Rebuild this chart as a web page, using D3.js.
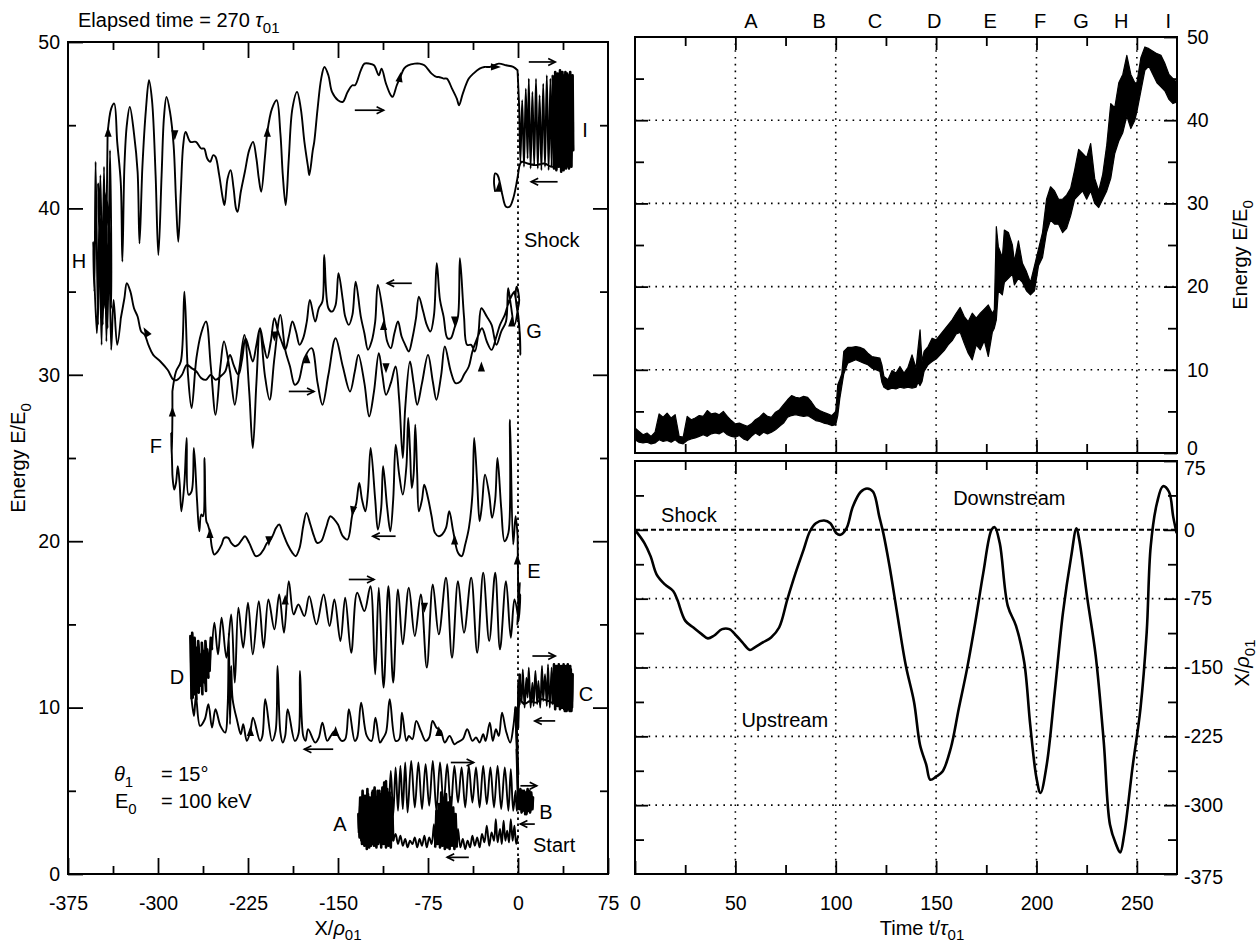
<!DOCTYPE html>
<html><head><meta charset="utf-8">
<script src="https://cdn.jsdelivr.net/npm/d3@7"></script>
<style>
body{margin:0;background:#fff}
svg{display:block}
text{font-family:"Liberation Sans",Arial,Helvetica,sans-serif;fill:#000}
</style>
</head><body>
<svg id="c" width="1259" height="945"></svg>
<script>
// ---------------- DATA ----------------
// Left panel: particle trajectory in (X/rho01, E/E0), in time order, by segment
const pathStartA = [[0,2.3],[-1.5,1.8],[-3,2.9],[-4.5,2.0],[-6,3.3],[-7.5,1.9],[-9,2.6],[-10.5,2.0],[-12,3.2],[-13.5,1.8],[-15,2.7],[-17,1.9],[-18.5,3.3],[-20,2.0],[-22,2.5],[-24,1.7],[-26,2.9],[-28,1.9],[-30,2.4],[-32,1.6],[-34,2.2],[-36,1.7],[-38,2.3],[-40,1.6],[-42,2.0],[-44,1.5],[-46,2.1],[-48,1.6],[-50,2.7],[-51,1.6],[-52,3.6],[-53,1.5],[-54,4.0],[-55,1.7],[-56,4.6],[-57,1.5],[-58,4.3],[-59,1.6],[-60,4.8],[-61,1.5],[-62,4.5],[-63,1.7],[-64,4.9],[-65,1.6],[-66,4.2],[-67,1.8],[-68,3.8],[-69,1.6],[-70,3.0],[-72,1.8],[-74,2.2],[-76,1.6],[-78,2.3],[-80,1.7],[-82,2.1],[-84,1.6],[-86,2.2],[-88,1.8],[-90,2.0],[-92,1.6],[-94,2.1],[-96,1.7],[-98,2.3],[-100,1.8],[-102,2.4],[-104,2.0]];
const blobA = [[-104,2.0],[-105,4.6],[-106,1.6],[-107,4.9],[-108,1.7],[-109,5.1],[-110,1.6],[-111,4.8],[-112,1.8],[-113,5.2],[-114,1.6],[-115,4.7],[-116,1.9],[-117,5.0],[-118,1.6],[-119,4.6],[-120,1.7],[-121,5.0],[-122,1.8],[-123,4.4],[-124,1.6],[-125,4.8],[-126,1.5],[-127,4.3],[-128,1.7],[-129,4.6],[-130,1.8],[-131,4.0],[-132,2.2],[-133,3.6],[-132.5,2.5],[-131.5,4.6],[-130.5,2.0],[-129.5,5.0],[-128.5,2.2],[-127.5,4.7],[-126.5,1.9],[-125.5,5.1],[-124.5,2.1],[-123.5,4.6],[-122.5,1.7],[-121.5,4.9],[-120.5,2.0],[-119.5,5.2],[-118.5,1.9],[-117.5,4.5],[-116.5,1.8],[-115.5,5.0],[-114.5,2.3],[-113.5,4.8],[-112.5,2.0],[-111.5,5.5],[-110.5,3.0],[-110,5.6]];
const pathAB = [[-110,5.6],[-108,3.6],[-106,6.2],[-104,3.5],[-102,6.4],[-100,3.8],[-98,6.5],[-96,3.9],[-94,6.7],[-92,3.7],[-89,6.8],[-86,4.0],[-83,6.7],[-80,3.9],[-77,6.6],[-74,4.1],[-71,6.8],[-68,3.8],[-65,6.7],[-62,4.2],[-59,6.6],[-56,3.9],[-53,6.5],[-50,4.3],[-47,6.4],[-44,4.0],[-41,6.5],[-38,4.3],[-35,6.4],[-32,4.0],[-29,6.5],[-26,4.2],[-23,6.4],[-20,4.0],[-17,6.5],[-14,3.9],[-11,6.4],[-8,3.8],[-6,6.3],[-4,3.8],[-2,5.0],[-1,3.8],[0,4.2]];
const blobB = [[0,4.2],[2,5.1],[3,3.7],[5,5.0],[6,3.6],[8,5.1],[9,3.8],[11,4.9],[12,3.9],[12.5,4.6],[10,3.7],[9.5,5.0],[7,3.6],[6.5,4.9],[4,3.8],[3.5,5.0],[1,3.9],[0,4.8]];
const jumpC = [[0,4.8],[-1,7.5],[0,6.0],[-1.5,9.0],[-0.5,7.5],[-2,10.0],[0,8.8],[0.5,11.5],[1,10.2],[1.5,12.0]];
const blobC = [[1.5,12.0],[3,10.3],[4,12.3],[5.5,10.0],[7,11.8],[8,10.6],[9,12.4],[10.5,10.0],[12,11.5],[13,10.1],[14.5,12.2],[16,10.2],[17,11.6],[18.5,10.0],[20,12.5],[21,10.4],[22.5,12.0],[24,10.1],[25,12.6],[26.5,10.0],[28,12.4],[29,10.2],[30,12.6],[31,9.9],[32,12.5],[33,10.1],[34,12.6],[35,9.9],[36,12.5],[37,10.0],[38,12.6],[39,9.8],[40,12.5],[41,9.9],[42,12.4],[43,9.8],[44,12.3],[45,10.0],[45.5,12.0],[44.5,9.8],[43.5,12.5],[42.5,9.9],[41.5,12.6],[40.5,9.8],[39.5,12.4],[38.5,9.9],[37.5,12.5],[36.5,10.0],[35.5,12.3],[34.5,10.1],[33.5,12.2],[30,10.3],[25,10.4],[20,10.5],[15,10.3],[10,10.4],[5,10.2],[2,10.5],[0,9.9],[-2.4,9.9]];
const pathCD = [[-2.4,9.9],[-4,8.8],[-6.5,7.9],[-10,8.6],[-13.3,9.7],[-16,8.3],[-18.4,8.7],[-21,8.0],[-23.5,9.1],[-27,8.0],[-29,8.4],[-32,7.9],[-35,8.2],[-38,8.0],[-42.3,8.7],[-46,8.1],[-50.7,7.9],[-53,7.8],[-57,8.3],[-61,7.9],[-64.4,8.6],[-68,8.8],[-71.2,9.2],[-74,8.2],[-77,8.0],[-81,8.6],[-84.8,9.2],[-88,8.1],[-91,8.3],[-93,8.0],[-96.7,9.7],[-99,8.1],[-102,8.0],[-106.9,10.5],[-110,8.5],[-113,8.1],[-115,7.9],[-118.8,9.4],[-122,8.0],[-126,8.3],[-130.7,10.3],[-134,8.2],[-136,8.0],[-140.9,9.9],[-144,8.1],[-147,8.0],[-152.8,8.6],[-156,8.3],[-159,8.0],[-163,9.1],[-166,8.2],[-169,7.9],[-174.9,8.7],[-177,8.0],[-179,8.3],[-181.7,12.2],[-183,8.4],[-186,8.0],[-191.9,9.9],[-194,8.3],[-196,7.9],[-198,8.5],[-200.4,12.5],[-202,8.6],[-205,8.0],[-210.6,10.5],[-213,8.3],[-215,8.0],[-220.8,9.4],[-223,8.6],[-226,8.0],[-229,9.0],[-231,8.4],[-234,9.2],[-237.8,10.5],[-239,12.5],[-240,9.0],[-241,14.5],[-242,10.0],[-244,8.5],[-248,8.9],[-252.1,9.9],[-255,8.8],[-258,10.2],[-261,9.3],[-265,8.9],[-268.4,10.7],[-270,9.5],[-272,10.5]];
const blobD = [[-272,10.5],[-273,14.3],[-271,10.6],[-272.5,13.8],[-270,10.8],[-271.5,14.5],[-269,11.0],[-270.5,13.5],[-268,10.5],[-269.5,14.2],[-267,11.2],[-268,13.6],[-266,10.9],[-266.5,14.0],[-264,11.3],[-265,13.2],[-263,10.8],[-263.5,13.9],[-261,11.5],[-262,13.4],[-260,11.0],[-260.5,14.0],[-258,11.8],[-259,13.5],[-257,12.2],[-256,14.2],[-255,13.5]];
const pathDE = [[-255,13.5],[-253,15.1],[-250,13.2],[-247,15.4],[-243,13.0],[-239,15.6],[-236,11.5],[-233,16.0],[-229,13.6],[-225,16.3],[-221,13.2],[-216,16.4],[-212,13.6],[-208,16.5],[-203,14.7],[-199,16.8],[-195,14.5],[-191,17.6],[-187,15.6],[-183,16.2],[-178,15.5],[-174,16.7],[-168,15.0],[-162,16.8],[-157,14.9],[-153,16.5],[-148,14.0],[-144,16.6],[-139,13.3],[-134,16.9],[-128,15.8],[-123,17.3],[-119,12.0],[-116,17.2],[-112,11.2],[-108,17.3],[-104,11.5],[-100,17.1],[-96,13.8],[-91,17.2],[-86,14.3],[-81,16.8],[-76,12.4],[-71,17.4],[-66,14.4],[-60,17.8],[-55,13.0],[-50,17.6],[-45,14.5],[-39,17.8],[-34,13.3],[-29,18.1],[-24,14.0],[-19,18.1],[-15,13.5],[-10,17.6],[-6,14.2],[-3,16.5],[0,15.5]];
const jumpE = [[0,15.5],[1,17.2],[-0.5,15.0],[1.5,17.5],[0,15.8],[2,16.8],[0.5,15.2],[0,18.0],[-0.3,20.3]];
const pathEF = [[-0.3,20.3],[-2,21.5],[-4,19.8],[-6.7,27.3],[-8,20.5],[-11.2,20.0],[-14,22.0],[-17.1,25.0],[-19,22.5],[-21.6,21.4],[-24,22.8],[-27.5,24.0],[-30,22.2],[-32,21.2],[-34,23.5],[-36.5,26.2],[-38,22.8],[-40.9,20.8],[-44,19.8],[-46.9,19.1],[-50,19.3],[-54,20.6],[-57.3,21.8],[-60,20.8],[-63.2,20.4],[-66,20.3],[-69.2,20.5],[-72,21.5],[-75,22.6],[-78.1,23.4],[-80,22.5],[-82.6,21.8],[-84,24.0],[-85.6,27.0],[-87,24.0],[-88.5,23.2],[-90,25.5],[-91.5,27.4],[-93,24.5],[-96,22.8],[-99,24.0],[-101.9,25.8],[-104,22.5],[-106.4,20.6],[-109,22.0],[-112.4,24.5],[-114,22.0],[-116.8,20.7],[-119,22.5],[-122.8,25.6],[-125,23.0],[-127.2,21.8],[-130,22.5],[-132.3,23.5],[-135,22.2],[-138,21.6],[-142.1,20.1],[-146,20.3],[-150,21.0],[-153,21.3],[-156.4,21.5],[-160,20.8],[-164,20.0],[-167.4,19.9],[-170,20.3],[-173,21.0],[-176.3,21.7],[-179,20.9],[-182,19.6],[-185.3,19.1],[-188,19.3],[-192,19.8],[-196,20.5],[-199,21.0],[-201.6,20.8],[-204,20.4],[-207,20.0],[-209.1,19.9],[-212,19.5],[-215,19.2],[-218.6,19.1],[-221,19.4],[-224,19.9],[-227.5,20.3],[-230,20.1],[-233,19.8],[-235.9,19.7],[-239,19.9],[-241.5,20.2],[-244.8,20.2],[-247,19.8],[-250,19.4],[-253.1,19.2],[-255,19.6],[-256.7,20.5],[-258.5,21.0],[-259.7,21.2],[-261.2,25.0],[-262.5,21.5],[-264,21.6],[-265.6,20.6],[-267.5,22.5],[-270.1,25.6],[-272,23.0],[-274.6,22.8],[-276.1,26.2],[-278,23.5],[-280.5,21.8],[-282,23.5],[-283.5,24.5],[-285,23.5],[-286.5,23.1],[-288,24.0]];
const jumpF = [[-288,24.0],[-289,26.5],[-288.5,25.0],[-288,27.6],[-288,29.0]];
const pathFG = [[-288,29.0],[-285,30.2],[-281,30.8],[-278,35.0],[-275,30.0],[-272,28.0],[-268,31.0],[-264,32.5],[-260,33.2],[-256,30.5],[-252,27.6],[-248,30.5],[-245,32.0],[-240,30.2],[-236,28.2],[-232,30.5],[-228,32.4],[-224,29.0],[-221,25.6],[-218,29.5],[-215,32.8],[-211,30.0],[-207,28.5],[-203,31.0],[-198,33.6],[-194,31.5],[-190,30.5],[-186,29.4],[-183,29.6],[-178,31.0],[-172,31.6],[-167,29.5],[-163,28.2],[-158,30.0],[-152,32.2],[-146,30.5],[-140,29.0],[-136,30.2],[-133,31.2],[-128,29.5],[-124,27.5],[-120,29.0],[-116,31.3],[-113,30.0],[-110,28.8],[-106,29.5],[-102,30.5],[-99,28.5],[-96,25.0],[-94,28.0],[-90,30.8],[-87,29.5],[-84,28.2],[-80,29.5],[-75,31.2],[-71,29.6],[-68,28.5],[-64,30.0],[-61,31.7],[-56,30.2],[-52,29.5],[-48,29.6],[-45,30.0],[-41,30.5],[-38,31.4],[-34,32.2],[-30,32.8],[-26,32.0],[-22,31.5],[-18,32.3],[-15,33.0],[-11,33.6],[-8,34.3],[-5,34.8],[-3,35.0]];
const loopG = [[-3,35.0],[-1,34.2],[1,33.0],[2,31.2],[1.5,32.5],[0,33.5],[-2,34.8],[-1,35.3],[1,34.5],[0,34.0]];
const pathGH = [[0,34.0],[-3,33.0],[-6,34.2],[-8.2,35.2],[-10,33.2],[-14,32.6],[-18,31.8],[-22,33.0],[-26,33.5],[-30.5,34.0],[-33,32.5],[-36,31.4],[-39,31.8],[-42.4,31.8],[-45,33.5],[-48.4,37.0],[-50,33.5],[-53,32.8],[-56,32.2],[-58.8,32.2],[-62,33.5],[-65,34.5],[-67.7,36.7],[-70,33.6],[-73,32.6],[-76,33.0],[-79,33.8],[-82.6,34.7],[-85,33.4],[-88,32.2],[-91,31.4],[-94,31.8],[-97,32.3],[-100,33.2],[-103,32.5],[-106,31.6],[-109,32.0],[-112,33.5],[-116.8,35.4],[-119,33.2],[-122,32.0],[-125,31.5],[-128,32.5],[-131,33.5],[-135.3,35.6],[-138,33.6],[-141,33.0],[-144,33.5],[-146,34.5],[-149.6,36.1],[-152,34.2],[-155,33.8],[-158,34.0],[-161.5,37.2],[-163,34.4],[-166,34.0],[-169,33.2],[-173.4,34.5],[-176,33.2],[-179,32.2],[-182,31.8],[-185,32.6],[-188,33.2],[-191,32.3],[-194,31.5],[-197,32.0],[-200,32.6],[-203,33.4],[-206,32.0],[-209,31.0],[-212,31.8],[-215,32.8],[-218,31.8],[-221,30.8],[-224,31.5],[-227,32.2],[-230,30.9],[-233,30.0],[-237,30.6],[-240,31.2],[-244,30.2],[-248,29.9],[-252,29.7],[-256,30.0],[-260,29.7],[-264,29.8],[-268,30.2],[-272,30.4],[-276,30.6],[-280,30.0],[-284,29.7],[-287,29.7],[-292,30.3],[-298,30.8],[-304,31.2],[-308,31.8],[-311,32.4],[-314,32.6],[-317,33.5],[-320,34.0],[-323,35.0],[-326,35.5],[-328,34.6],[-331,33.4]];
const bundleH = [[-331,33.4],[-334,31.8],[-337,34.5],[-339,31.5],[-341,40.0],[-343,32.0],[-345,42.5],[-347,31.8],[-349,39.0],[-350,33.0],[-352,42.8],[-353,35.0],[-354,38.0],[-351,32.5],[-348,42.0],[-346,33.0],[-344,40.5],[-342,32.8],[-340,43.5],[-339,34.0],[-343,41.0],[-347,36.0],[-350,41.5],[-345,34.0],[-342,44.5]];
const pathHI = [[-342,44.5],[-339,46.0],[-336.5,46.3],[-334,44.0],[-331,41.5],[-329.7,36.8],[-328,42.5],[-326,45.0],[-323.5,46.1],[-320,44.5],[-317,42.2],[-315.4,37.9],[-313,42.5],[-310,46.0],[-307.5,47.7],[-305,46.5],[-302,42.0],[-299.7,37.2],[-297,42.0],[-295,45.5],[-292.9,46.7],[-290,45.8],[-287,43.8],[-285,40.5],[-283.1,38.0],[-281,41.0],[-279,43.8],[-277,44.6],[-273,44.0],[-268.4,44.0],[-264,43.6],[-261.6,43.6],[-259,43.0],[-256.5,42.8],[-254,43.2],[-252.1,43.1],[-249,42.0],[-246,40.6],[-244.6,40.2],[-242,41.8],[-239.5,42.3],[-237,41.2],[-235,40.0],[-233.7,39.8],[-231,41.0],[-227.6,42.2],[-224,43.5],[-220.8,44.0],[-218,43.0],[-216,41.8],[-214,41.0],[-211,43.0],[-208.9,44.6],[-205,46.0],[-201.1,46.5],[-198,44.5],[-196,42.0],[-193.6,40.2],[-191,43.0],[-188,46.0],[-184.1,47.0],[-181,46.0],[-178,44.0],[-175,42.5],[-173.9,42.0],[-171,43.5],[-169.8,44.0],[-167,46.0],[-164,47.8],[-161.3,48.5],[-158,48.0],[-155,47.0],[-150,46.5],[-146,46.4],[-142,47.0],[-138,47.4],[-135.8,47.4],[-131,48.3],[-128,48.7],[-123.9,48.7],[-120,48.6],[-116,48.0],[-113.7,48.4],[-110,47.5],[-106,46.8],[-104.5,46.7],[-101,47.4],[-98,47.9],[-95,48.4],[-91.6,48.6],[-86,48.7],[-82,48.7],[-78,48.6],[-72,48.1],[-68,47.9],[-66.1,47.9],[-62,47.8],[-59.3,47.8],[-55,47.2],[-51,46.6],[-49.1,46.2],[-46,46.9],[-41,47.8],[-37.2,48.1],[-32,48.4],[-28,48.5],[-23.5,48.5],[-16,48.7],[-9.9,48.6],[-4,48.5],[-0.4,48.3]];
const blobI = [[-0.4,48.3],[1,46.0],[2,42.8],[3.5,46.5],[5,42.5],[6.5,47.2],[8,43.0],[9,47.8],[10.5,42.4],[12,47.0],[13.5,42.6],[15,47.8],[16.5,42.4],[18,46.8],[19.5,42.3],[21,47.5],[22.5,42.5],[24,48.0],[25.5,42.3],[27,47.8],[28,42.5],[29,48.0],[30,42.4],[31,48.2],[32,42.3],[33,48.1],[34,42.5],[35,48.3],[36,42.2],[37,48.2],[38,42.3],[39,48.0],[40,42.4],[41,48.1],[42,42.5],[43,47.8],[44,42.8],[45,47.5],[46,43.5],[45.5,48.0],[44.5,42.5],[43.5,48.2],[42.5,42.4],[41.5,48.0],[40.5,42.6],[39.5,48.2],[38.5,42.5],[37.5,47.9],[36.5,42.6],[35.5,47.5],[33,42.6],[28,42.5],[22,42.7],[15,42.6],[8,42.7],[3,42.8],[1,42.5]];
const tailI = [[1,42.5],[-1,41.6],[-4,40.6],[-7,40.1],[-10,40.1],[-13,40.8],[-15,41.5],[-17,42.0],[-19,42.1],[-20,41.6],[-19,41.0]];

// Right top: energy band vs time (lower / upper envelope of the noisy trace)
const tE  = [0,2,4,6,8,10,12,14,16,18,20,22,24,26,28,30,32,34,36,38,40,42,44,46,48,50,52,54,56,58,60,62,64,66,68,70,72,74,76,78,80,82,84,86,88,90,92,94,96,98,100,101,102,103,104,106,108,110,112,114,116,118,120,122,123,124,126,128,130,132,134,136,138,140,141,142,143,144,146,148,150,152,154,156,158,160,162,164,166,168,170,172,174,176,178,179,180,181,183,184,186,188,189,191,193,195,197,199,201,203,205,207,209,211,213,215,217,219,221,223,225,227,229,231,233,235,237,239,241,243,245,247,249,250,252,254,256,258,260,262,264,266,268,270];
const eLo = [1.6,1.3,1.2,1.3,1.1,1.2,1.6,1.4,1.5,1.3,1.6,1.2,1.1,1.5,1.7,1.8,2.0,2.2,2.0,2.3,2.4,2.3,2.6,2.2,2.0,1.9,2.1,1.7,1.5,2.0,2.4,2.1,2.5,2.3,2.5,2.8,3.2,3.6,4.3,4.5,4.6,4.5,4.4,4.5,4.2,3.9,3.8,3.6,3.5,3.3,3.4,4.5,6.5,8.0,9.5,10.8,11.0,11.2,11.0,10.8,10.6,10.2,10.0,9.8,8.5,7.9,7.6,7.8,7.7,7.9,7.8,7.9,7.8,7.9,8.5,8.1,8.6,9.8,10.6,11.0,11.3,11.8,12.3,13.0,13.5,14.3,14.5,13.2,12.0,11.2,13.0,12.4,13.5,11.6,14.5,15.0,16.0,19.5,19.0,20.5,21.0,21.5,20.2,21.0,20.5,19.5,19.0,19.5,22.5,23.5,26.5,28.0,27.5,27.5,26.5,27.0,28.5,30.5,31.0,31.5,30.5,31.5,30.0,29.5,30.5,31.5,33.0,36.0,37.5,38.5,40.5,39.0,40.0,41.0,43.5,46.0,46.5,45.5,44.5,44.0,43.5,42.5,42.0,42.2];
const eHi = [3.0,2.6,2.2,2.4,2.0,2.5,4.7,4.3,4.8,4.2,4.6,2.0,1.9,4.4,4.0,4.2,4.5,4.4,5.1,4.7,4.8,4.6,5.0,4.4,3.9,3.5,3.6,3.4,3.2,3.5,4.0,4.3,4.8,4.4,4.3,4.9,5.2,5.8,6.4,6.9,6.7,6.6,6.8,6.7,6.1,5.4,5.1,4.9,4.7,4.5,5.0,8.2,8.8,9.5,12.2,12.7,12.7,12.8,12.7,12.5,12.0,11.6,11.5,11.4,10.6,9.2,8.8,9.9,9.6,10.4,9.6,10.3,11.8,10.2,12.6,14.8,11.0,12.2,12.8,13.8,13.6,14.2,14.8,15.4,16.0,16.8,17.5,16.4,15.8,16.8,16.2,16.8,17.3,17.8,16.8,17.2,27.2,24.8,23.5,26.8,26.5,25.0,23.0,25.5,22.8,21.8,20.5,22.5,24.5,26.5,30.5,32.0,31.5,30.5,30.5,31.0,31.8,34.0,36.5,36.0,35.5,37.2,33.0,31.5,33.5,37.0,42.0,41.5,44.5,45.5,47.8,45.5,44.5,44.5,47.5,48.8,48.6,48.3,48.0,47.8,46.8,45.5,45.0,44.5];

// Right bottom: position X/rho01 vs time
const tX   = [0,4.7,7.8,10.8,14.9,19,21,25.1,29.1,33.2,36.3,39.3,43.4,47,50.5,53.5,57.2,59.7,63.7,67.8,71.8,75.9,80,84,87.1,90.1,94.2,97.3,100.3,102.4,105.4,108.5,112.5,115.6,118.6,121.7,123.7,126.8,130.8,134.9,139,142,145.1,147.1,150.1,153.2,157.3,161.3,165.4,169.5,173.5,177.6,179.2,181.7,185.7,189.8,193.9,196.9,200,202,205.1,209.1,213.2,217.3,219.9,221.3,225.4,229.5,233.5,236.6,239.6,241.7,243.7,247.8,251.8,254.9,256.9,260,263,266,268.1,269.8];
const xPos = [0,-14.4,-28.9,-48.7,-59.5,-66.7,-75.7,-99.2,-106.4,-113.6,-118.3,-115.4,-108.2,-108.2,-115.4,-122.6,-130.9,-128,-122.6,-117.2,-106.4,-75.7,-46.9,-21.6,-1.8,7.2,10.1,7.2,-3.6,-5.4,1.8,25.2,41.5,45.1,41.5,14.4,-3.6,-39.7,-93.8,-147.9,-187.5,-234.4,-256,-272.3,-268.7,-263.3,-238,-194.7,-151.5,-101,-46.9,0,2.9,-14.4,-82.9,-104.6,-144.3,-212.8,-270.5,-286.7,-256,-176.7,-90.2,-28.9,1.8,-10.8,-75.7,-137,-230.8,-321,-342.6,-351.6,-331.8,-259.6,-194.7,-111.8,-18,28.9,47.6,41.5,14.4,-3.6];

// Tick labels
const xTickLabelsL = [-375,-300,-225,-150,-75,0,75];
const yTickLabelsL = [0,10,20,30,40,50];
const tTickLabels  = [0,50,100,150,200,250];
const eTickLabelsR = [0,10,20,30,40,50];
const xTickLabelsR = [-375,-300,-225,-150,-75,0,75];
const phaseLabels = ["A","B","C","D","E","F","G","H","I"];
const phaseTimes  = [57.8,91.7,119.6,149,176.9,201.8,222.2,242.2,265.6];

// Direction arrows on the trajectory panel: [Xstart, Xend, E]
const freeArrows = [[-136,-112,45.9],[9,31,48.8],[33,11,41.6],[-88.5,-109,35.5],[-191,-170,29.0],[-102,-121,20.3],[-141,-120,17.7],[-154,-178,7.5],[12,31,13.1],[31,14,9.2],[-56,-37,6.7],[2,15.6,5.3],[14,2,3.0],[-41,-59,1.0]];
// Arrowheads sitting on the trajectory: [X, E, direction in degrees (0=right, -90=up)]
const headArrows = [[-341.6,44.6,-90],[-286,44.4,90],[-208.9,44.6,-90],[-98.4,47.9,-80],[-18.4,48.5,0],[-16,41.3,-90],[-310,32.6,-120],[-203,32.3,90],[-176,31,-90],[-112,33,-90],[-110,30.4,90],[-52.8,33.2,90],[-30.5,30.5,-90],[-5.2,33.2,-90],[-288,27.8,-90],[-256.7,20.5,-90],[-207.6,20,90],[-137.7,21.8,100],[-52.8,20.1,-90],[-0.5,18.9,-90],[-194,16.5,-90],[-78,16,90],[-223,8.6,-90],[-152,8.6,-90],[-66,8.6,-90]];

// ---------------- DRAW ----------------
const svg = d3.select("#c");
const FONT = '"Liberation Sans",Arial,Helvetica,sans-serif';
const FS = 20, FSN = 19.5, FSS = 15;

const xL  = d3.scaleLinear().domain([-375,75]).range([68,608]);
const yL  = d3.scaleLinear().domain([0,50]).range([874,42]);
const xR  = d3.scaleLinear().domain([0,270]).range([635,1177]);
const yRT = d3.scaleLinear().domain([0,50]).range([453,37]);
const yRB = d3.scaleLinear().domain([-375,75]).range([874,461]);

function addAxis(gen, vals, inner, pad, fmt, tr){
  const g = svg.append("g").attr("transform", tr)
    .call(gen.tickValues(vals).tickSizeInner(inner).tickSizeOuter(0).tickPadding(pad).tickFormat(fmt));
  g.attr("font-family", FONT).attr("font-size", FSN);
  g.select(".domain").remove();
  g.selectAll("line").attr("stroke","#000").attr("stroke-width",1.8);
  g.selectAll("text").attr("fill","#000");
  return g;
}
const none = () => "";
const majL = d3.range(-300,1,75), minL = d3.range(-337.5,75,75);
const majE = [10,20,30,40], minE = d3.range(5,50,10);
const majT = [50,100,150,200,250], minT = [25,75,125,175,225];
const majXR = [-300,-225,-150,-75,0], minXR = d3.range(-337.5,75,75);

// grid lines right panels (dotted)
const grid = svg.append("g").attr("stroke","#000").attr("stroke-width",1.6).attr("stroke-dasharray","1.6,5.2");
majT.forEach(t => {
  grid.append("line").attr("x1",xR(t)).attr("x2",xR(t)).attr("y1",yRT(0)).attr("y2",yRT(50));
  grid.append("line").attr("x1",xR(t)).attr("x2",xR(t)).attr("y1",yRB(-375)).attr("y2",yRB(75));
});
majE.forEach(e => grid.append("line").attr("x1",xR(0)).attr("x2",xR(270)).attr("y1",yRT(e)).attr("y2",yRT(e)));
[-75,-150,-225,-300].forEach(v => grid.append("line").attr("x1",xR(0)).attr("x2",xR(270)).attr("y1",yRB(v)).attr("y2",yRB(v)));
svg.append("line").attr("x1",xR(0)).attr("x2",xR(270)).attr("y1",yRB(0)).attr("y2",yRB(0))
  .attr("stroke","#000").attr("stroke-width",2).attr("stroke-dasharray","5,3");
svg.append("line").attr("x1",xL(0)).attr("x2",xL(0)).attr("y1",yL(0)).attr("y2",yL(48.3))
  .attr("stroke","#000").attr("stroke-width",1.8).attr("stroke-dasharray","2.5,3.5");

// ---- left panel axes
addAxis(d3.axisBottom(xL), xTickLabelsL, -16, 22, d=>String(d), "translate(0,874)");
addAxis(d3.axisBottom(xL), minL, -8, 0, none, "translate(0,874)");
addAxis(d3.axisTop(xL), majL, -16, 0, none, "translate(0,42)");
addAxis(d3.axisTop(xL), minL, -8, 0, none, "translate(0,42)");
addAxis(d3.axisLeft(yL), yTickLabelsL, -15, 8, d=>String(d), "translate(68,0)");
addAxis(d3.axisLeft(yL), minE, -8, 0, none, "translate(68,0)");
addAxis(d3.axisRight(yL), majE, -15, 0, none, "translate(608,0)");
addAxis(d3.axisRight(yL), minE, -8, 0, none, "translate(608,0)");

// ---- right top axes
addAxis(d3.axisTop(xR), majT, -13, 0, none, "translate(0,37)");
addAxis(d3.axisTop(xR), minT, -9, 0, none, "translate(0,37)");
addAxis(d3.axisBottom(xR), majT, -13, 0, none, "translate(0,453)");
addAxis(d3.axisBottom(xR), minT, -9, 0, none, "translate(0,453)");
addAxis(d3.axisLeft(yRT), majE, -13, 0, none, "translate(635,0)");
addAxis(d3.axisLeft(yRT), minE, -9, 0, none, "translate(635,0)");
const gRT = addAxis(d3.axisRight(yRT), eTickLabelsR, -13, 10, d=>String(d), "translate(1177,0)");
addAxis(d3.axisRight(yRT), minE, -9, 0, none, "translate(1177,0)");
gRT.selectAll(".tick").filter(d=>d===0).select("text").attr("y",-5);

// ---- right bottom axes
addAxis(d3.axisTop(xR), majT, -13, 0, none, "translate(0,461)");
addAxis(d3.axisTop(xR), minT, -9, 0, none, "translate(0,461)");
addAxis(d3.axisBottom(xR), tTickLabels, -13, 22, d=>String(d), "translate(0,874)");
addAxis(d3.axisBottom(xR), minT, -9, 0, none, "translate(0,874)");
addAxis(d3.axisLeft(yRB), majXR, -13, 0, none, "translate(635,0)");
addAxis(d3.axisLeft(yRB), minXR, -9, 0, none, "translate(635,0)");
const gRB = addAxis(d3.axisRight(yRB), xTickLabelsR, -13, 7, d=>String(d), "translate(1177,0)");
addAxis(d3.axisRight(yRB), minXR, -9, 0, none, "translate(1177,0)");
gRB.selectAll(".tick").filter(d=>d===75).select("text").attr("y",7);
gRB.selectAll(".tick").filter(d=>d===-375).select("text").attr("y",3);

// frames
[[xL(-375),yL(50),xL(75),yL(0)],[xR(0),yRT(50),xR(270),yRT(0)],[xR(0),yRB(75),xR(270),yRB(-375)]].forEach(f=>{
  svg.append("rect").attr("x",f[0]).attr("y",f[1]).attr("width",f[2]-f[0]).attr("height",f[3]-f[1])
    .attr("fill","none").attr("stroke","#000").attr("stroke-width",2);
});

// ---- left trajectory (smooth)
const traj = d3.merge([pathStartA, blobA, pathAB, blobB, jumpC, blobC, pathCD, blobD, pathDE, jumpE, pathEF, jumpF, pathFG, loopG, pathGH, bundleH, pathHI, blobI, tailI]);
const lineL = d3.line().x(d=>xL(d[0])).y(d=>yL(d[1]));
svg.append("path").datum(traj)
  .attr("d", lineL.curve(d3.curveCatmullRom.alpha(0.5)))
  .attr("fill","none").attr("stroke","#000").attr("stroke-width",1.9).attr("stroke-linejoin","round");
// dense gyration clusters drawn heavier
const lineS = d3.line().x(d=>xL(d[0])).y(d=>yL(d[1]));
[blobA, blobB, blobD, blobC.filter(d=>d[0]>=29), blobI.filter(d=>d[0]>=29), pathStartA.filter(d=>d[0]<=-51 && d[0]>=-69), jumpC].forEach(seg=>{
  svg.append("path").datum(seg).attr("d", lineS)
    .attr("fill","none").attr("stroke","#000").attr("stroke-width",2.6).attr("stroke-linejoin","round");
});

// free arrows
const ga = svg.append("g").attr("stroke","#000").attr("stroke-width",1.7).attr("fill","none");
freeArrows.forEach(a=>{
  const x1=xL(a[0]), x2=xL(a[1]), y=yL(a[2]), s=Math.sign(x2-x1);
  ga.append("line").attr("x1",x1).attr("x2",x2).attr("y1",y).attr("y2",y);
  ga.append("path").attr("d",`M${x2-s*7},${y-3.5}L${x2},${y}L${x2-s*7},${y+3.5}`);
});
headArrows.forEach(a=>{
  svg.append("path").attr("d","M5,0L-5,-3.6L-5,3.6Z")
    .attr("transform",`translate(${xL(a[0])},${yL(a[1])}) rotate(${a[2]})`)
    .attr("fill","#000");
});

// ---- right top energy band
svg.append("path").datum(d3.range(tE.length))
  .attr("d", d3.area().x(i=>xR(tE[i])).y0(i=>yRT(eLo[i])).y1(i=>yRT(eHi[i])))
  .attr("fill","#000").attr("stroke","#000").attr("stroke-width",1.2).attr("stroke-linejoin","round");

// ---- right bottom position curve
svg.append("path").datum(d3.range(tX.length))
  .attr("d", d3.line().x(i=>xR(tX[i])).y(i=>yRB(xPos[i])).curve(d3.curveCatmullRom))
  .attr("fill","none").attr("stroke","#000").attr("stroke-width",2.6);

// ---- texts
function txt(x,y,s,opts={}){
  const t = svg.append("text").attr("x",x).attr("y",y).attr("font-size",opts.size||FS)
    .attr("text-anchor",opts.anchor||"start").attr("font-family",FONT);
  t.text(s);
  return t;
}
phaseLabels.forEach((l,i)=> txt(xR(phaseTimes[i]), 28, l, {anchor:"middle"}));

{
  const t = txt(78, 27, "");
  t.append("tspan").text("Elapsed time = 270 ");
  t.append("tspan").attr("font-style","italic").text("τ");
  t.append("tspan").attr("dy",6).attr("font-size",FSS).text("01");
}
function rotTitle(x,y,parts){
  const t = svg.append("text").attr("transform",`translate(${x},${y}) rotate(-90)`)
    .attr("text-anchor","middle").attr("font-size",FS).attr("font-family",FONT);
  parts(t);
}
rotTitle(25,(yL(0)+yL(50))/2, t=>{
  t.append("tspan").text("Energy  E/E");
  t.append("tspan").attr("dy",6).attr("font-size",FSS).text("0");
});
rotTitle(1247,255, t=>{
  t.append("tspan").text("Energy  E/E");
  t.append("tspan").attr("dy",6).attr("font-size",FSS).text("0");
});
rotTitle(1249,663, t=>{
  t.append("tspan").text("X/");
  t.append("tspan").attr("font-style","italic").text("ρ");
  t.append("tspan").attr("dy",6).attr("font-size",FSS).text("01");
});
{
  const t = svg.append("text").attr("x",(xL(-375)+xL(75))/2).attr("y",935).attr("text-anchor","middle")
    .attr("font-size",FS).attr("font-family",FONT);
  t.append("tspan").text("X/");
  t.append("tspan").attr("font-style","italic").text("ρ");
  t.append("tspan").attr("dy",5).attr("font-size",FSS).text("01");
}
{
  const t = svg.append("text").attr("x",922).attr("y",935).attr("text-anchor","middle")
    .attr("font-size",FS).attr("font-family",FONT);
  t.append("tspan").text("Time t/");
  t.append("tspan").attr("font-style","italic").text("τ");
  t.append("tspan").attr("dy",5).attr("font-size",FSS).text("01");
}
txt(xR(13), yRB(9), "Shock");
txt(xR(158.5), yRB(27), "Downstream");
txt(xR(53), yRB(-215), "Upstream");

txt(xL(-148.3), yL(2.6), "A", {anchor:"middle"});
txt(xL(23.3), yL(3.3), "B", {anchor:"middle"});
txt(xL(12.5), yL(1.3), "Start");
txt(xL(56.7), yL(10.4), "C", {anchor:"middle"});
txt(xL(-284.2), yL(11.4), "D", {anchor:"middle"});
txt(xL(13.3), yL(17.8), "E", {anchor:"middle"});
txt(xL(-301.7), yL(25.3), "F", {anchor:"middle"});
txt(xL(13.3), yL(32.2), "G", {anchor:"middle"});
txt(xL(-365.8), yL(36.4), "H", {anchor:"middle"});
txt(xL(55.8), yL(44.3), "I", {anchor:"middle"});
txt(xL(5), yL(37.7), "Shock");
{
  const t = txt(114, 781, "");
  t.append("tspan").attr("font-style","italic").text("θ");
  t.append("tspan").attr("dy",6).attr("font-size",FSS).text("1");
  t.append("tspan").attr("x",161).attr("dy",-6).text("= 15°");
  const u = txt(115, 808, "");
  u.append("tspan").text("E");
  u.append("tspan").attr("dy",6).attr("font-size",FSS).text("0");
  u.append("tspan").attr("x",161).attr("dy",-6).text("= 100 keV");
}
</script>
</body></html>
